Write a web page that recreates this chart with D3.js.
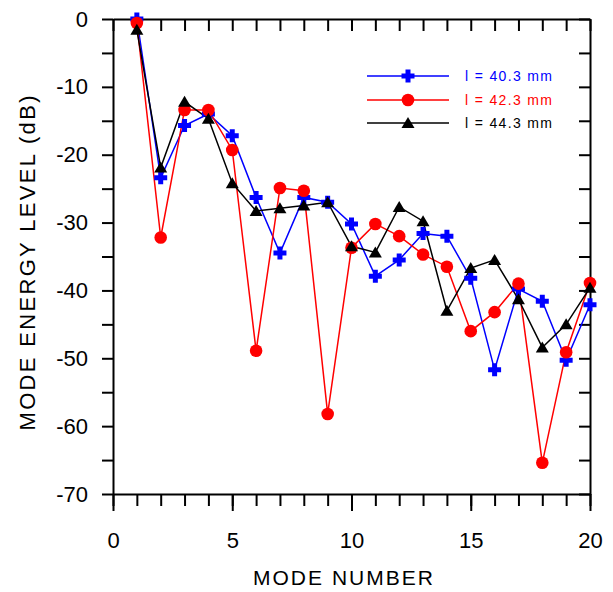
<!DOCTYPE html>
<html>
<head>
<meta charset="utf-8">
<script src="https://cdn.jsdelivr.net/npm/d3@7"></script>
<style>
  body { margin: 0; background: #fff; }
  svg { display: block; }
  text { font-family: "Liberation Sans", Arial, sans-serif; }
</style>
</head>
<body>
<div id="chart"></div>
<script>
// mode number 1..20
const modes = d3.range(1, 21);
const seriesNames = ['l = 40.3 mm', 'l = 42.3 mm', 'l = 44.3 mm'];
const l403 = [0, -23.4, -15.7, -14.0, -17.2, -26.3, -34.5, -26.3, -27.0, -30.2,
  -37.9, -35.5, -31.6, -32.0, -38.2, -51.7, -39.8, -41.6, -50.3, -42.1];
const l423 = [-0.6, -32.2, -13.4, -13.4, -19.3, -48.9, -24.9, -25.3, -58.2, -33.7,
  -30.2, -32.0, -34.7, -36.5, -46.0, -43.2, -39.0, -65.4, -49.1, -38.9];
const l443 = [-1.6, -21.9, -12.2, -14.7, -24.2, -28.3, -27.9, -27.5, -27.0, -33.5,
  -34.4, -27.7, -29.8, -43.0, -36.7, -35.5, -41.3, -48.4, -45.0, -39.6];

const W = 613, H = 592;
const margin = {top: 19, right: 23, bottom: 98, left: 113};
const width = 590 - margin.left;
const height = 494 - margin.top;

const colors = ['#0000ff', '#ff0000', '#000000'];
const allSeries = [l403, l423, l443];

const xScale = d3.scaleLinear().domain([0, 20]).range([0, width]);
const yScale = d3.scaleLinear().domain([-70, 0]).range([height, 0]);

const svg = d3.select('#chart')
    .append('svg')
    .attr('width', W)
    .attr('height', H);

const g = svg.append('g')
    .attr('transform', `translate(${margin.left}, ${margin.top})`);

const styleAxis = (sel) => {
  sel.selectAll('path').attr('stroke', '#000').attr('stroke-width', 2);
  sel.selectAll('line').attr('stroke', '#000').attr('stroke-width', 2);
  sel.selectAll('text')
      .attr('fill', '#000')
      .style('font-size', '22px')
      .style('font-family', '"Liberation Sans", Arial, sans-serif');
};

// bottom: minor ticks every 1, major every 5 with labels
g.append('g')
    .attr('transform', `translate(0, ${height})`)
    .call(d3.axisBottom(xScale).tickValues(d3.range(0, 21)).tickSize(12)
        .tickSizeOuter(0).tickFormat(''))
    .call(styleAxis);
g.append('g')
    .attr('transform', `translate(0, ${height})`)
    .call(d3.axisBottom(xScale).tickValues(d3.range(0, 21, 5)).tickSize(17)
        .tickSizeOuter(0).tickPadding(21).tickFormat(d3.format('d')))
    .call(styleAxis)
    .call((a) => a.select('.domain').remove());

// top: inward ticks every 1
g.append('g')
    .call(d3.axisTop(xScale).tickValues(d3.range(0, 21)).tickSize(-12)
        .tickSizeOuter(0).tickFormat(''))
    .call(styleAxis);

// left: outward ticks every 5, labels every 10
g.append('g')
    .call(d3.axisLeft(yScale).tickValues(d3.range(-70, 1, 5)).tickSize(11)
        .tickSizeOuter(0).tickPadding(14)
        .tickFormat((d) => d % 10 === 0 ? d3.format('d')(d).replace('−', '-') : ''))
    .call(styleAxis);

// right: inward ticks every 5
g.append('g')
    .attr('transform', `translate(${width}, 0)`)
    .call(d3.axisRight(yScale).tickValues(d3.range(-70, 1, 5)).tickSize(-11)
        .tickSizeOuter(0).tickFormat(''))
    .call(styleAxis);

// axis titles
svg.append('text')
    .attr('x', 343)
    .attr('y', 585)
    .attr('text-anchor', 'middle')
    .attr('textLength', 180)
    .attr('lengthAdjust', 'spacing')
    .style('font-size', '21px')
    .attr('fill', '#000')
    .text('MODE NUMBER');

svg.append('text')
    .attr('transform', 'translate(35, 263) rotate(-90)')
    .attr('text-anchor', 'middle')
    .attr('textLength', 335)
    .attr('lengthAdjust', 'spacing')
    .style('font-size', '22px')
    .attr('fill', '#000')
    .text('MODE ENERGY LEVEL (dB)');

// markers
const plusPath = 'M-2.5,-6.5H2.5V-2.5H6.5V2.5H2.5V6.5H-2.5V2.5H-6.5V-2.5H-2.5Z';
const triPath = 'M0,-6L6.5,5H-6.5Z';
const drawMarker = (sel, i, color) => {
  if (i === 0) {
    sel.append('path').attr('d', plusPath).attr('fill', color);
  } else if (i === 1) {
    sel.append('circle').attr('r', 6.3).attr('fill', color);
  } else {
    sel.append('path').attr('d', triPath).attr('fill', color);
  }
};

const line = d3.line()
    .x((d, i) => xScale(modes[i]))
    .y((d) => yScale(d));

allSeries.forEach((vals, si) => {
  g.append('path')
      .datum(vals)
      .attr('fill', 'none')
      .attr('stroke', colors[si])
      .attr('stroke-width', 1.5)
      .attr('d', line);
});

allSeries.forEach((vals, si) => {
  g.selectAll(null)
      .data(vals)
      .enter()
      .append('g')
      .attr('transform', (d, i) => `translate(${xScale(modes[i])}, ${yScale(d)})`)
      .each(function() {
        drawMarker(d3.select(this), si, colors[si]);
      });
});

// legend
const legendY = [76, 100, 123];
seriesNames.forEach((name, si) => {
  const lg = svg.append('g')
      .attr('transform', `translate(367, ${legendY[si]})`);
  lg.append('line')
      .attr('x1', 0).attr('x2', 82)
      .attr('stroke', colors[si]).attr('stroke-width', 1.5);
  const m = lg.append('g').attr('transform', 'translate(41, 0)');
  drawMarker(m, si, colors[si]);
  lg.append('text')
      .attr('x', 98)
      .attr('y', 5)
      .attr('textLength', 87)
      .attr('lengthAdjust', 'spacing')
      .style('font-size', '14px')
      .attr('fill', colors[si])
      .text(name);
});
</script>
</body>
</html>
